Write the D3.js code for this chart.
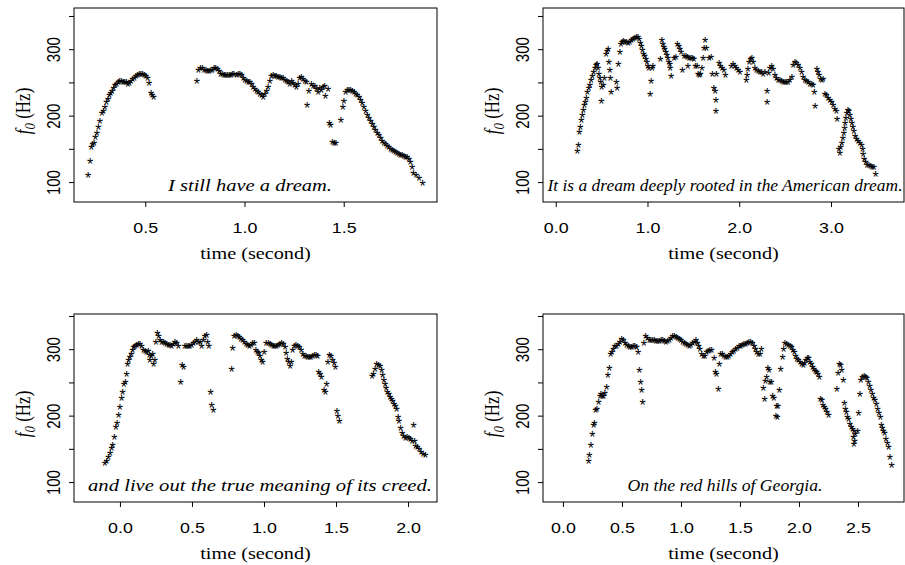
<!DOCTYPE html>
<html>
<head>
<meta charset="utf-8">
<script src="https://cdn.jsdelivr.net/npm/d3@7"></script>
<style>
  body { margin: 0; background: #fff; }
  svg { display: block; }
</style>
</head>
<body>
<svg id="chart" width="905" height="565"></svg>
<script>
// f0 contours, [time (s), f0 (Hz)]
var dreamA = [
  [0.212,111],[0.222,131],[0.229,152],[0.235,157],[0.242,159],[0.249,167],[0.256,174],[0.264,182],[0.271,192],[0.281,203],
  [0.289,206],[0.296,213],[0.304,220],[0.313,225],[0.319,230],[0.326,234],[0.333,237],[0.341,242],[0.348,246],[0.356,248],
  [0.364,251],[0.371,252],[0.380,252],[0.388,251],[0.396,250],[0.405,250],[0.413,248],[0.420,249],[0.428,252],[0.436,255],
  [0.445,257],[0.453,259],[0.462,261],[0.470,262],[0.478,263],[0.487,263],[0.495,261],[0.503,259],[0.512,256],[0.519,249],
  [0.529,234],[0.535,230],[0.542,228],
  [0.760,252],[0.768,268],[0.778,272],[0.788,271],[0.797,269],[0.805,268],[0.813,267],[0.822,267],[0.830,268],[0.838,269],
  [0.847,271],[0.855,272],[0.864,270],[0.872,267],[0.880,263],[0.889,262],[0.897,261],[0.905,261],[0.914,261],[0.922,261],
  [0.931,261],[0.939,262],[0.947,263],[0.960,261],[0.969,262],[0.977,263],[0.985,261],[0.994,257],[1.002,253],[1.011,252],
  [1.019,251],[1.027,250],[1.036,247],[1.044,243],[1.052,240],[1.061,237],[1.069,235],[1.078,233],[1.086,231],[1.094,228],
  [1.103,232],[1.111,237],[1.119,243],[1.128,252],[1.136,259],[1.144,261],[1.153,260],[1.161,259],[1.170,258],[1.178,258],
  [1.186,257],[1.195,256],[1.203,254],[1.212,252],[1.220,250],[1.228,248],[1.237,252],[1.245,249],[1.253,246],[1.262,243],
  [1.270,248],[1.278,256],[1.287,258],[1.295,255],[1.304,252],[1.312,250],[1.315,216],[1.325,237],[1.337,247],[1.346,245],
  [1.354,244],[1.362,240],[1.371,236],[1.379,241],[1.387,238],[1.396,243],[1.404,245],[1.407,229],[1.421,240],[1.428,188],
  [1.434,186],[1.443,160],[1.451,158],[1.461,158],[1.486,193],[1.496,212],[1.501,222],[1.510,235],[1.518,238],[1.526,239],
  [1.535,238],[1.543,237],[1.552,235],[1.560,233],[1.568,231],[1.577,228],[1.585,223],[1.593,218],[1.602,212],[1.610,206],
  [1.619,201],[1.627,196],[1.635,191],[1.644,187],[1.652,183],[1.660,178],[1.669,174],[1.677,170],[1.686,166],[1.694,162],
  [1.702,159],[1.711,157],[1.719,154],[1.727,152],[1.736,150],[1.744,148],[1.753,147],[1.761,145],[1.769,143],[1.778,142],
  [1.786,141],[1.794,140],[1.803,139],[1.811,138],[1.820,137],[1.828,134],[1.836,130],[1.845,122],[1.851,113],[1.865,110],
  [1.880,106],[1.897,99]
];

var dreamB = [
  [0.236,146],[0.247,156],[0.258,175],[0.269,182],[0.280,193],[0.291,200],[0.301,208],[0.312,215],[0.323,220],[0.334,226],
  [0.345,235],[0.360,241],[0.371,246],[0.385,253],[0.400,260],[0.414,266],[0.429,271],[0.440,276],[0.450,278],[0.461,271],
  [0.469,263],[0.480,257],[0.490,250],[0.501,243],[0.498,222],[0.520,246],[0.530,256],[0.549,292],[0.560,297],[0.570,300],
  [0.578,280],[0.589,269],[0.596,256],[0.603,235],[0.661,250],[0.669,242],[0.683,278],[0.698,296],[0.709,308],[0.723,311],
  [0.738,312],[0.752,311],[0.770,310],[0.789,309],[0.807,311],[0.825,313],[0.843,315],[0.861,317],[0.879,318],[0.894,318],
  [0.909,315],[0.923,309],[0.934,304],[0.945,298],[0.959,293],[0.970,289],[0.981,285],[0.992,280],[1.003,275],[1.014,272],
  [1.028,232],[1.039,252],[1.050,271],[1.058,275],[1.141,285],[1.156,313],[1.167,307],[1.178,303],[1.188,300],[1.199,296],
  [1.210,291],[1.221,286],[1.232,281],[1.243,278],[1.247,271],[1.258,260],[1.290,286],[1.308,288],[1.327,308],[1.341,305],
  [1.352,300],[1.367,296],[1.381,268],[1.399,289],[1.417,289],[1.436,288],[1.454,287],[1.472,286],[1.490,286],[1.505,285],
  [1.439,275],[1.523,275],[1.541,274],[1.552,263],[1.566,261],[1.577,262],[1.592,272],[1.606,286],[1.617,301],[1.628,314],
  [1.643,301],[1.672,287],[1.694,288],[1.708,263],[1.723,242],[1.737,237],[1.745,223],[1.745,206],[1.752,263],[1.781,279],
  [1.795,274],[1.814,271],[1.832,269],[1.850,261],[1.915,274],[1.934,277],[1.952,275],[1.970,272],[1.988,269],[2.006,266],
  [2.079,253],[2.086,261],[2.093,270],[2.108,280],[2.123,285],[2.137,286],[2.152,280],[2.170,272],[2.188,269],[2.206,267],
  [2.224,266],[2.243,265],[2.261,263],[2.279,266],[2.304,237],[2.304,220],[2.319,264],[2.333,271],[2.352,275],[2.370,270],
  [2.388,261],[2.406,256],[2.424,253],[2.443,253],[2.461,252],[2.479,251],[2.497,251],[2.515,250],[2.533,250],[2.552,253],
  [2.573,258],[2.588,276],[2.606,281],[2.624,279],[2.642,276],[2.661,271],[2.679,266],[2.697,258],[2.715,253],[2.733,252],
  [2.751,250],[2.770,248],[2.788,247],[2.806,246],[2.820,235],[2.828,214],[2.846,270],[2.857,266],[2.871,261],[2.886,255],
  [2.900,253],[2.915,255],[2.933,232],[2.951,230],[2.970,226],[2.988,223],[3.006,220],[3.024,215],[3.042,210],[3.060,206],
  [3.068,195],[3.086,150],[3.097,144],[3.104,152],[3.119,159],[3.130,166],[3.140,174],[3.148,181],[3.155,189],[3.162,196],
  [3.173,203],[3.184,208],[3.195,206],[3.206,201],[3.217,195],[3.228,189],[3.239,182],[3.249,176],[3.264,169],[3.279,164],
  [3.297,161],[3.315,159],[3.333,156],[3.344,150],[3.351,142],[3.362,135],[3.377,130],[3.395,126],[3.413,125],[3.431,124],
  [3.449,123],[3.468,122],[3.486,112]
];

var dreamC = [
  [-0.104,129],[-0.093,132],[-0.081,138],[-0.069,143],[-0.058,151],[-0.051,156],[-0.039,167],[-0.028,182],[-0.019,189],[-0.009,201],
  [0.000,213],[0.012,227],[0.019,236],[0.028,247],[0.037,251],[0.046,263],[0.053,278],[0.060,283],[0.069,288],[0.079,293],
  [0.088,298],[0.097,303],[0.106,305],[0.116,306],[0.127,308],[0.139,307],[0.150,305],[0.162,298],[0.174,297],[0.185,296],
  [0.197,297],[0.204,291],[0.208,284],[0.218,289],[0.227,293],[0.234,277],[0.243,284],[0.250,310],[0.259,324],[0.269,319],
  [0.278,314],[0.289,311],[0.301,310],[0.312,309],[0.324,308],[0.336,306],[0.347,306],[0.359,305],[0.370,307],[0.382,310],
  [0.394,309],[0.405,305],[0.421,251],[0.431,276],[0.442,273],[0.451,305],[0.463,304],[0.475,304],[0.486,305],[0.498,306],
  [0.509,309],[0.521,311],[0.532,313],[0.544,310],[0.556,310],[0.567,304],[0.579,314],[0.590,320],[0.602,321],[0.609,311],
  [0.618,304],[0.630,236],[0.637,216],[0.648,208],
  [0.775,270],[0.782,302],[0.792,319],[0.806,321],[0.817,319],[0.829,318],[0.840,315],[0.852,313],[0.863,310],[0.875,308],
  [0.887,306],[0.898,305],[0.910,306],[0.921,309],[0.933,309],[0.944,298],[0.954,296],[0.963,294],[0.972,289],[0.981,283],
  [0.991,281],[1.000,296],[1.014,309],[1.030,309],[1.042,307],[1.053,306],[1.065,304],[1.076,304],[1.088,305],[1.100,306],
  [1.111,308],[1.123,309],[1.134,308],[1.146,303],[1.153,294],[1.162,285],[1.171,280],[1.181,275],[1.190,280],[1.199,298],
  [1.211,304],[1.222,306],[1.234,305],[1.245,303],[1.257,299],[1.269,293],[1.280,290],[1.292,289],[1.303,288],[1.315,288],
  [1.326,288],[1.338,290],[1.350,291],[1.361,291],[1.373,289],[1.380,266],[1.389,262],[1.398,258],[1.417,238],[1.426,236],
  [1.435,247],[1.444,280],[1.454,291],[1.465,290],[1.477,284],[1.486,279],[1.495,273],[1.505,207],[1.512,199],[1.523,191],
  [1.750,259],[1.759,263],[1.771,270],[1.782,277],[1.794,276],[1.806,274],[1.817,269],[1.824,261],[1.833,254],[1.840,247],
  [1.847,241],[1.857,236],[1.866,232],[1.875,228],[1.884,224],[1.893,221],[1.903,217],[1.912,214],[1.921,209],[1.931,198],
  [1.937,192],[1.949,181],[1.958,174],[1.970,169],[1.981,166],[1.993,167],[2.005,166],[2.016,164],[2.028,161],[2.039,186],
  [2.046,162],[2.053,154],[2.065,152],[2.076,149],[2.090,145],[2.105,142],[2.120,140]
];

var dreamD = [
  [0.217,132],[0.223,141],[0.237,155],[0.249,172],[0.260,185],[0.266,188],[0.277,208],[0.288,209],[0.302,220],[0.314,229],
  [0.322,232],[0.333,230],[0.345,230],[0.356,234],[0.370,243],[0.381,261],[0.393,272],[0.404,292],[0.415,296],[0.427,300],
  [0.441,304],[0.455,305],[0.469,308],[0.483,311],[0.497,315],[0.511,313],[0.526,309],[0.540,306],[0.554,304],[0.568,303],
  [0.582,303],[0.596,304],[0.610,304],[0.624,303],[0.636,295],[0.647,268],[0.658,251],[0.667,238],[0.675,220],[0.686,309],
  [0.701,319],[0.715,316],[0.732,314],[0.746,313],[0.760,313],[0.774,313],[0.788,312],[0.802,312],[0.816,312],[0.831,313],
  [0.845,313],[0.859,312],[0.873,311],[0.887,312],[0.901,314],[0.915,316],[0.929,319],[0.944,320],[0.958,318],[0.972,316],
  [0.986,315],[1.000,313],[1.014,311],[1.028,309],[1.042,307],[1.057,306],[1.071,305],[1.085,306],[1.099,309],[1.113,311],
  [1.127,313],[1.138,309],[1.150,304],[1.161,300],[1.175,293],[1.189,290],[1.203,289],[1.217,295],[1.232,297],[1.246,299],
  [1.260,298],[1.280,286],[1.291,266],[1.299,263],[1.316,240],[1.325,278],[1.336,293],[1.350,293],[1.364,290],[1.379,288],
  [1.393,288],[1.407,290],[1.421,292],[1.435,295],[1.449,297],[1.463,300],[1.477,302],[1.492,304],[1.506,305],[1.520,306],
  [1.534,307],[1.548,308],[1.562,309],[1.576,310],[1.590,310],[1.605,309],[1.619,305],[1.630,300],[1.641,296],[1.655,292],
  [1.670,293],[1.681,300],[1.698,242],[1.709,224],[1.715,252],[1.726,258],[1.737,271],[1.746,268],[1.754,251],[1.766,251],
  [1.777,230],[1.788,227],[1.805,199],[1.811,214],[1.816,198],[1.822,214],[1.833,239],[1.845,270],[1.862,288],[1.870,300],
  [1.881,309],[1.895,308],[1.910,306],[1.924,305],[1.938,303],[1.949,299],[1.961,295],[1.972,289],[1.983,285],[1.994,283],
  [2.009,281],[2.023,278],[2.037,276],[2.048,279],[2.059,283],[2.071,287],[2.082,286],[2.093,281],[2.105,277],[2.116,273],
  [2.127,270],[2.138,267],[2.150,265],[2.161,262],[2.172,258],[2.181,224],[2.195,223],[2.203,216],[2.215,213],[2.226,209],
  [2.237,205],[2.251,201],[2.322,240],[2.331,264],[2.342,278],[2.353,276],[2.362,269],[2.376,253],[2.384,218],[2.393,210],
  [2.401,205],[2.410,198],[2.421,194],[2.432,187],[2.444,182],[2.455,180],[2.460,167],[2.466,176],[2.466,157],[2.472,162],
  [2.477,172],[2.497,176],[2.506,203],[2.517,233],[2.525,254],[2.537,258],[2.551,259],[2.565,258],[2.576,256],[2.588,251],
  [2.599,244],[2.610,238],[2.621,232],[2.633,227],[2.644,223],[2.655,217],[2.667,210],[2.678,203],[2.689,197],[2.698,185],
  [2.706,181],[2.715,177],[2.726,173],[2.737,165],[2.749,158],[2.760,152],[2.771,137],[2.785,126]
];

var captions = [
  "I still have a dream.",
  "It is a dream deeply rooted in the American dream.",
  "and live out the true meaning of its creed.",
  "On the red hills of Georgia."
];

var xTicksA = [0.5, 1.0, 1.5];
var xTicksB = [0.0, 1.0, 2.0, 3.0];
var xTicksC = [0.0, 0.5, 1.0, 1.5, 2.0];
var xTicksD = [0.0, 0.5, 1.0, 1.5, 2.0, 2.5];
var yTicks = [100, 150, 200, 250, 300, 350];

var stretch = 1.19;   // the original figure is a bit wider than tall
var sans = "'Liberation Sans', Arial, Helvetica, sans-serif";
var serif = "'Liberation Serif', 'Times New Roman', Times, serif";

var panels = [
  {pts: dreamA, ticks: xTicksA, cap: captions[0], x0: 74,  x1: 437, y0: 8,   y1: 202, t: [0.141, 1.970],  f: [70, 362], capX: 250, capW: 164},
  {pts: dreamB, ticks: xTicksB, cap: captions[1], x0: 543, x1: 904, y0: 8,   y1: 202, t: [-0.139, 3.796], f: [70, 362], capX: 725, capW: 355},
  {pts: dreamC, ticks: xTicksC, cap: captions[2], x0: 74,  x1: 437, y0: 314, y1: 502, t: [-0.319, 2.201], f: [70, 353], capX: 260, capW: 344},
  {pts: dreamD, ticks: xTicksD, cap: captions[3], x0: 543, x1: 904, y0: 314, y1: 502, t: [-0.169, 2.890], f: [70, 353], capX: 725, capW: 195}
];

var svg = d3.select("#chart");

panels.forEach(function(p) {
  var x = d3.scaleLinear().domain(p.t).range([p.x0, p.x1]);
  var y = d3.scaleLinear().domain(p.f).range([p.y1, p.y0]);
  var g = svg.append("g");

  // x axis
  var xAxis = d3.axisBottom(x)
      .tickValues(p.ticks)
      .tickSize(5)
      .tickFormat(d3.format(".1f"));
  var gx = g.append("g")
      .attr("transform", "translate(0," + p.y1 + ")")
      .call(xAxis);
  gx.select(".domain").remove();
  gx.selectAll(".tick line").attr("stroke", "#000");
  gx.selectAll(".tick text")
      .attr("y", 31)
      .attr("dy", 0)
      .attr("fill", "#000")
      .attr("transform", "scale(" + stretch + ",1)")
      .style("font-family", sans)
      .style("font-size", "15px");

  // y axis, rotated labels, only every other tick labelled
  var yAxis = d3.axisLeft(y)
      .tickValues(yTicks)
      .tickSize(5)
      .tickFormat(function(d) { return d % 100 === 0 ? d : ""; });
  var gy = g.append("g")
      .attr("transform", "translate(" + p.x0 + ",0)")
      .call(yAxis);
  gy.select(".domain").remove();
  gy.selectAll(".tick line").attr("stroke", "#000");
  gy.selectAll(".tick text")
      .attr("x", 0)
      .attr("y", -14 / stretch)
      .attr("dy", 0)
      .attr("text-anchor", "middle")
      .attr("fill", "#000")
      .attr("transform", "scale(" + stretch + ",1) rotate(-90)")
      .style("font-family", sans)
      .style("font-size", "15px");

  // box
  g.append("rect")
      .attr("x", p.x0)
      .attr("y", p.y0)
      .attr("width", p.x1 - p.x0)
      .attr("height", p.y1 - p.y0)
      .attr("fill", "none")
      .attr("stroke", "#000")
      .attr("stroke-width", 1);

  // axis titles
  g.append("text")
      .attr("transform", "translate(" + ((p.x0 + p.x1) / 2) + "," + (p.y1 + 57) + ") scale(" + stretch + ",1)")
      .attr("text-anchor", "middle")
      .style("font-family", serif)
      .style("font-size", "17px")
      .text("time (second)");

  var yl = g.append("text")
      .attr("transform", "translate(" + (p.x0 - 44) + "," + ((p.y0 + p.y1) / 2 + 6) + ") scale(" + stretch + ",1) rotate(-90)")
      .attr("text-anchor", "middle")
      .style("font-family", serif)
      .style("font-size", "17px");
  yl.append("tspan").style("font-style", "italic").text("f");
  yl.append("tspan").style("font-style", "italic").style("font-size", "13px").attr("dy", 4).text("0");
  yl.append("tspan").attr("dy", -4).text(" (Hz)");

  // caption, fitted to the width it has in the original
  g.append("text")
      .attr("x", p.capX)
      .attr("y", p.y1 - 11)
      .attr("text-anchor", "middle")
      .attr("textLength", p.capW)
      .attr("lengthAdjust", "spacingAndGlyphs")
      .style("font-family", serif)
      .style("font-style", "italic")
      .style("font-size", "17px")
      .text(p.cap);

  // f0 points as asterisks
  g.append("g").selectAll("text")
      .data(p.pts)
      .join("text")
      .attr("x", function(d) { return x(d[0]); })
      .attr("y", function(d) { return y(d[1]); })
      .attr("dy", "0.55em")
      .attr("text-anchor", "middle")
      .style("font-family", sans)
      .style("font-size", "16px")
      .attr("fill", "#000")
      .text("*");
});
</script>
</body>
</html>
